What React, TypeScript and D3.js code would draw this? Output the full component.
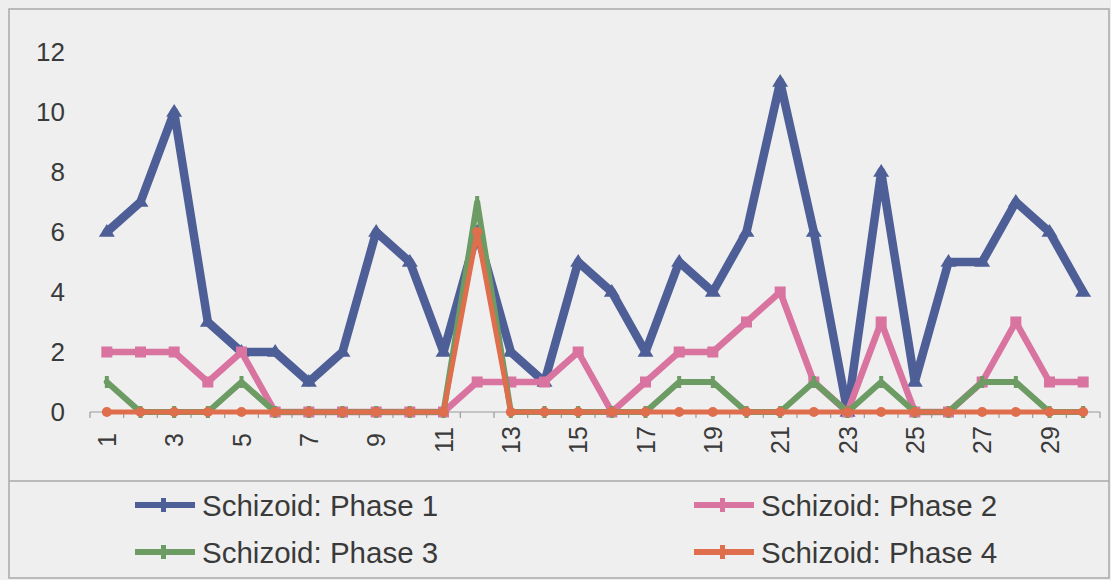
import React from "react";
import * as d3 from "d3";

// Day index along the horizontal axis
const categories = [
  1, 2, 3, 4, 5, 6, 7, 8, 9, 10, 11, 12, 13, 14, 15,
  16, 17, 18, 19, 20, 21, 22, 23, 24, 25, 26, 27, 28, 29, 30,
];

const phase1 = [6, 7, 10, 3, 2, 2, 1, 2, 6, 5, 2, 6, 2, 1, 5, 4, 2, 5, 4, 6, 11, 6, 0, 8, 1, 5, 5, 7, 6, 4];
const phase2 = [2, 2, 2, 1, 2, 0, 0, 0, 0, 0, 0, 1, 1, 1, 2, 0, 1, 2, 2, 3, 4, 1, 0, 3, 0, 0, 1, 3, 1, 1];
const phase3 = [1, 0, 0, 0, 1, 0, 0, 0, 0, 0, 0, 7, 0, 0, 0, 0, 0, 1, 1, 0, 0, 1, 0, 1, 0, 0, 1, 1, 0, 0];
const phase4 = [0, 0, 0, 0, 0, 0, 0, 0, 0, 0, 0, 6, 0, 0, 0, 0, 0, 0, 0, 0, 0, 0, 0, 0, 0, 0, 0, 0, 0, 0];

const yTicks = [0, 2, 4, 6, 8, 10, 12];
const xTickLabels = categories.filter((c) => c % 2 === 1);

const seriesNames = [
  "Schizoid: Phase 1",
  "Schizoid: Phase 2",
  "Schizoid: Phase 3",
  "Schizoid: Phase 4",
];

type Marker = "triangle" | "square" | "bar" | "circle";

const series: { name: string; values: number[]; color: string; width: number; marker: Marker }[] = [
  { name: seriesNames[0], values: phase1, color: "#4e5f97", width: 8.5, marker: "triangle" },
  { name: seriesNames[1], values: phase2, color: "#d8749f", width: 6.5, marker: "square" },
  { name: seriesNames[2], values: phase3, color: "#6c9c64", width: 6, marker: "bar" },
  { name: seriesNames[3], values: phase4, color: "#de6e4c", width: 5, marker: "circle" },
];

const W = 1111;
const H = 580;
const FONT = "'Liberation Sans', Arial, 'DejaVu Sans', sans-serif";
const TEXT = "#3a3a3a";

function MarkerShape({ type, x, y, color }: { type: Marker; x: number; y: number; color: string }) {
  if (type === "triangle") {
    const s = 8;
    return <path d={`M${x},${y - s} L${x + s},${y + s * 0.6} L${x - s},${y + s * 0.6} Z`} fill={color} />;
  }
  if (type === "square") {
    return <rect x={x - 5.5} y={y - 5.5} width={11} height={11} fill={color} />;
  }
  if (type === "bar") {
    return <rect x={x - 2} y={y - 6} width={4} height={12} fill={color} />;
  }
  return <circle cx={x} cy={y} r={5} fill={color} />;
}

export default function App() {
  const x = d3.scaleBand<number>().domain(categories).range([90, 1100]).padding(0);
  const y = d3.scaleLinear().domain([0, 12]).range([412, 52]);
  const cx = (c: number) => (x(c) as number) + x.bandwidth() / 2;

  const line = d3
    .line<number>()
    .x((_, i) => cx(categories[i]))
    .y((v) => y(v));

  const boundaries = d3.range(categories.length + 1).map((i) => 90 + i * x.bandwidth());

  const legendItems = [
    { s: series[0], lx: 135, ly: 505 },
    { s: series[1], lx: 694, ly: 505 },
    { s: series[2], lx: 135, ly: 552 },
    { s: series[3], lx: 694, ly: 552 },
  ];

  return (
    <div style={{ position: "absolute", left: 0, top: 0, width: W, height: H }}>
      <svg width={W} height={H} style={{ display: "block", fontFamily: FONT }}>
        <rect x={0} y={0} width={W} height={H} fill="#eeeeee" />
        <rect x={9} y={9} width={1100} height={569} fill="#efefef" stroke="#a9a9a9" strokeWidth={1.5} />
        <line x1={9} x2={1109} y1={481} y2={481} stroke="#a9a9a9" strokeWidth={1.5} />

        {/* y tick labels */}
        {yTicks.map((t) => (
          <text
            key={t}
            x={65}
            y={y(t)}
            textAnchor="end"
            dominantBaseline="central"
            fontSize={26}
            fill={TEXT}
          >
            {t}
          </text>
        ))}

        {/* category axis */}
        <line x1={90} x2={1100} y1={412} y2={412} stroke="#9a9a9a" strokeWidth={1.2} />
        {boundaries.map((b, i) => (
          <line key={i} x1={b} x2={b} y1={412} y2={418} stroke="#9a9a9a" strokeWidth={1.2} />
        ))}
        {xTickLabels.map((c) => (
          <text
            key={c}
            transform={`translate(${cx(c) + 9},440) rotate(-90)`}
            textAnchor="middle"
            fontSize={25}
            fill={TEXT}
          >
            {c}
          </text>
        ))}

        {/* series lines and markers */}
        {series.map((s) => (
          <g key={s.name}>
            <path
              d={line(s.values) || ""}
              fill="none"
              stroke={s.color}
              strokeWidth={s.width}
              strokeLinejoin="round"
              strokeLinecap="round"
            />
            {s.values.map((v, i) => (
              <MarkerShape key={i} type={s.marker} x={cx(categories[i])} y={y(v)} color={s.color} />
            ))}
          </g>
        ))}

        {/* legend */}
        {legendItems.map(({ s, lx, ly }) => (
          <g key={s.name}>
            <line x1={lx} x2={lx + 60} y1={ly} y2={ly} stroke={s.color} strokeWidth={6} />
            <rect x={lx + 26} y={ly - 7} width={5} height={14} fill={s.color} />
            <text x={lx + 67} y={ly} dominantBaseline="central" fontSize={29.5} fill={TEXT}>
              {s.name}
            </text>
          </g>
        ))}
      </svg>
    </div>
  );
}
